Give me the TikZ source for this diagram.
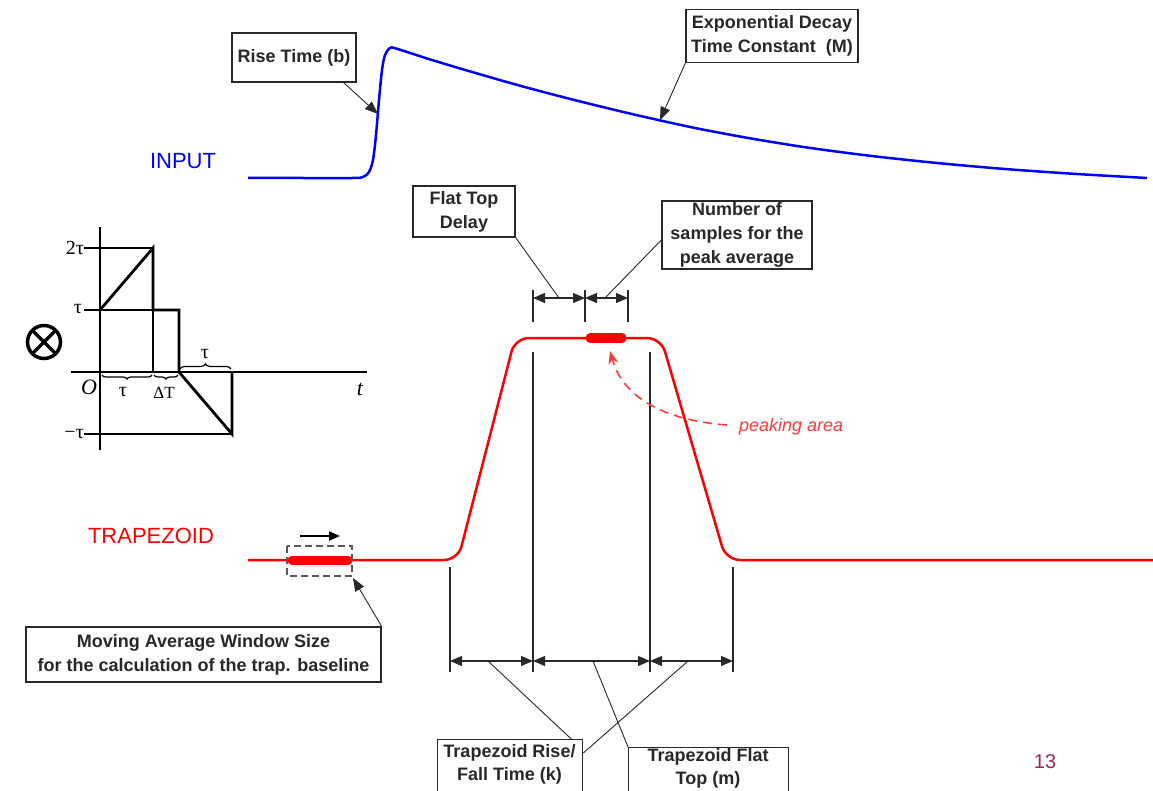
\documentclass[tikz,border=0pt]{standalone}
\usepackage{fontspec}
\setmainfont{Liberation Sans}
\newfontfamily\serif{Liberation Serif}
\usetikzlibrary{arrows.meta,decorations.pathreplacing,calc}
\definecolor{inblue}{RGB}{0,0,255}
\definecolor{trred}{RGB}{255,0,0}
\definecolor{pkred}{RGB}{255,60,60}
\definecolor{boxgray}{RGB}{40,40,40}
\definecolor{pagenum}{RGB}{150,40,95}
\begin{document}
\begin{tikzpicture}[x=1pt,y=-1pt,
  lbox/.style={draw=boxgray, line width=1.3pt, fill=white, align=center,
    font=\bfseries\fontsize{18}{24}\selectfont, text=boxgray, inner sep=0pt},
  ltext/.style={align=center, font=\bfseries\fontsize{18}{23}\selectfont, text=boxgray, inner sep=0pt},
  lead/.style={draw=boxgray, line width=0.9pt},
  tipped/.style={lead, -{Triangle[length=13pt,width=10pt]}},
  dimline/.style={draw=boxgray, line width=1.2pt,
    {Triangle[length=12pt,width=10pt]}-{Triangle[length=12pt,width=10pt]}},
  tickline/.style={draw=boxgray, line width=1.1pt},
  thk/.style={line width=2.8pt},
  thn/.style={line width=1.2pt},
  lab/.style={font=\serif\fontsize{20}{22}\selectfont, inner sep=0pt},
  bigred/.style={trred, line width=9pt, line cap=round}
]
\useasboundingbox (0,0) rectangle (1153,791);
\fill[white] (0,0) rectangle (1153,791);

% ---------------- INPUT ----------------
\node[text=inblue, font=\fontsize{22}{26}\selectfont, inner sep=0pt] (inlab) at (183,161) {INPUT};
\draw[inblue, line width=2.5pt, line join=round] plot[smooth, tension=0.5] coordinates {
 (248,178) (300,178) (352,178) (363,177) (369,172) (373,160) (376,135) (379,100)
 (382,70) (385,55) (390,48) (396,48.5) (430,59.4) (470,71.4) (520,85.7) (570,98.9)
 (620,111.2) (660,120.4) (700,129) (750,138.3) (807,147.5) (870,155.8) (940,163.3)
 (1010,169.4) (1080,174.2) (1147,178)};

\node[lbox, minimum width=124pt, minimum height=49pt] (rise) at (294,57.5) {Rise Time (b)};
\coordinate (risetip) at (378,114);
\draw[tipped] ([xshift=-13pt]rise.south east) -- (risetip);

\node[lbox, minimum width=172pt, minimum height=53pt] (expo) at (772,36) {Exponential Decay\\Time Constant\ \ (M)};
\coordinate (expotip) at (660,120);
\draw[tipped] (expo.south west) -- (expotip);

% ---------------- TRAPEZOID ----------------
\node[text=trred, font=\fontsize{22}{26}\selectfont, inner sep=0pt] (trlab) at (151,536) {TRAPEZOID};
\draw[trred, line width=2.5pt, rounded corners=14pt] (248,560) -- (458,560) -- (515,338) -- (661,338) -- (726,560) -- (1153,560);
\draw[bigred] (590,338) -- (622,338);
\draw[bigred] (292,560) -- (348,560);

% moving window
\draw[draw=black!65, line width=2pt, dash pattern=on 7pt off 4pt] (287,546) rectangle (352,576);
\coordinate (mva) at (300,536);
\coordinate (mvb) at (340,536);
\draw[line width=2pt, -{Triangle[length=11pt,width=9pt]}] (mva) -- (mvb);
\node[lbox, minimum width=355pt, minimum height=55pt] (mavg) at (203.5,654.5) {Moving Average Window Size\\for the calculation of the trap. baseline};
\coordinate (mavgtip) at (353,578);
\draw[tipped] (mavg.north east) -- (mavgtip);

% vertical reference lines
\coordinate (v1t) at (450,567); \coordinate (v1b) at (450,672);
\coordinate (v2t) at (533,352); \coordinate (v2b) at (533,672);
\coordinate (v3t) at (650,352); \coordinate (v3b) at (650,672);
\coordinate (v4t) at (733,567); \coordinate (v4b) at (733,672);
\draw[tickline] (v1t) -- (v1b);
\draw[tickline] (v2t) -- (v2b);
\draw[tickline] (v3t) -- (v3b);
\draw[tickline] (v4t) -- (v4b);
\coordinate (d1) at (450,661); \coordinate (d2) at (533,661);
\coordinate (d3) at (650,661); \coordinate (d4) at (733,661);
\draw[dimline] (d1) -- (d2);
\draw[dimline] (d2) -- (d3);
\draw[dimline] (d3) -- (d4);

% top dims
\coordinate (t1t) at (533,290); \coordinate (t1b) at (533,322);
\coordinate (t2t) at (585,290); \coordinate (t2b) at (585,322);
\coordinate (t3t) at (628,290); \coordinate (t3b) at (628,322);
\draw[tickline] (t1t) -- (t1b);
\draw[tickline] (t2t) -- (t2b);
\draw[tickline] (t3t) -- (t3b);
\coordinate (e1) at (533,298); \coordinate (e2) at (585,298); \coordinate (e3) at (628,298);
\draw[dimline] (e1) -- (e2);
\draw[dimline] (e2) -- (e3);

\node[lbox, minimum width=102pt, minimum height=51pt] (ftd) at (464,211.5) {Flat Top\\Delay};
\coordinate (ftdend) at (559,298);
\draw[lead] (ftd.south east) -- (ftdend);
\node[lbox, minimum width=150pt, minimum height=68pt] (nsam) at (737,235) {Number of\\samples for the\\peak average};
\coordinate (nsamend) at (605,298);
\draw[lead] ([yshift=-5pt]nsam.west) -- (nsamend);

% peaking area
\node[text=pkred, font=\itshape\fontsize{18}{22}\selectfont, inner sep=0pt, anchor=west] (peak) at (739,427) {peaking area};
\coordinate (pkstart) at (727,425);
\coordinate (pktip) at (610,351);
\draw[pkred, line width=1.6pt, dash pattern=on 9pt off 6pt, -{Stealth[length=13pt,width=10pt]}]
  (pkstart) .. controls (660,420) and (622,395) .. (pktip);

% bottom boxes
\node[draw=boxgray, line width=1.3pt, anchor=north west, minimum width=145pt, minimum height=70pt, inner sep=0pt] (rfbox) at (437,739) {};
\node[ltext] (rftext) at (509.5,764) {Trapezoid Rise/\\Fall Time (k)};
\node[draw=boxgray, line width=1.3pt, anchor=north west, minimum width=160pt, minimum height=70pt, inner sep=0pt] (ftbox) at (628,747) {};
\node[ltext] (fttext) at (708,768) {Trapezoid Flat\\Top (m)};
\coordinate (l1) at (488,661);
\coordinate (l2) at (593,661);
\coordinate (l3) at (688,661);
\draw[lead] (l1) -- ([xshift=-12pt]rfbox.north east);
\draw[lead] (l3) -- ([yshift=-14pt]rfbox.north east);
\draw[lead] (l2) -- (ftbox.north west);

% page number
\node[text=pagenum, font=\fontsize{20}{24}\selectfont, inner sep=0pt] (pnum) at (1045,762) {13};

% ---------------- inset ----------------
\draw[thk] (100,227) -- (100,450);
\draw[thk] (71,372) -- (367,372);
\draw[thk] (84,248) -- (100,248);
\draw[thk] (84,310) -- (100,310);
\draw[thk] (84,434) -- (100,434);
\draw[thn] (100,248) -- (153,248);
\draw[thn] (100,310) -- (153,310);
\draw[thn] (153,310) -- (153,372);
\draw[thn] (100,434) -- (232,434);
\draw[thk, line join=miter] (100,310) -- (153,248) -- (153,310) -- (179,310) -- (179,372);
\draw[thk] (179,372) -- (232,434) -- (232,372);
\draw[thn, decorate, decoration={brace, amplitude=4pt, mirror}] (102,375) -- (152,375);
\draw[thn, decorate, decoration={brace, amplitude=4pt, mirror}] (154,375) -- (178,375);
\draw[thn, decorate, decoration={brace, amplitude=5pt}] (180,369) -- (231,369);
\node[lab, anchor=east] (l2t) at (84,248) {2τ};
\node[lab, anchor=east] (l1t) at (82,309) {τ};
\node[lab, anchor=east] (lm1t) at (84,434) {−τ};
\node[lab, font=\serif\fontsize{22}{24}\selectfont] (lo) at (89,387) {\itshape O};
\node[lab] (ltau1) at (123,392) {τ};
\node[lab, font=\serif\fontsize{17}{20}\selectfont] (ldt) at (164,393) {ΔT};
\node[lab] (ltau2) at (205,354) {τ};
\node[lab, font=\serif\fontsize{22}{24}\selectfont] (lt) at (360,389) {\itshape t};
% otimes symbol
\draw[line width=3.5pt] (44,342) circle (16.5);
\draw[line width=3.5pt] (32.5,330.5) -- (55.5,353.5);
\draw[line width=3.5pt] (55.5,330.5) -- (32.5,353.5);
\end{tikzpicture}
\end{document}
